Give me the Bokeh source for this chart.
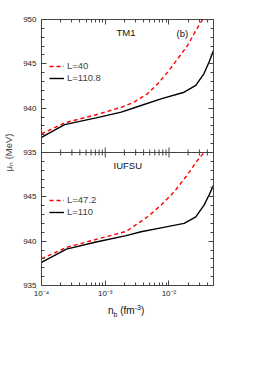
import numpy as np
from bokeh.plotting import figure
from bokeh.layouts import column
from bokeh.models import (Range1d, LinearAxis, LogAxis, FixedTicker, CustomJSTickFormatter,
                          Legend, LegendItem, Label, Span, Div)
from bokeh.embed import file_html
from bokeh.resources import INLINE

# ---------------- data ----------------
# TM1 panel
tm1_l40_n = [1e-4, 2.3e-4, 7.2e-4, 1.78e-3, 2.87e-3, 4.64e-3, 6.66e-3, 9.55e-3, 0.0137, 0.0196, 0.0264, 0.0355]
tm1_l40_mu = [937.1, 938.35, 939.26, 940.1, 940.7, 941.65, 942.75, 944.06, 945.57, 947.07, 948.76, 950.26]
tm1_l110_n = [1e-4, 2.3e-4, 7.2e-4, 1.78e-3, 3.65e-3, 7.5e-3, 0.0173, 0.0264, 0.0355, 0.0426, 0.05]
tm1_l110_mu = [936.7, 938.15, 938.9, 939.55, 940.3, 941.05, 941.8, 942.56, 943.9, 945.2, 946.5]
# IUFSU panel
iu_l47_n = [1e-4, 2.46e-4, 7.2e-4, 2.13e-3, 2.87e-3, 4.64e-3, 7.5e-3, 0.0121, 0.0184, 0.0281, 0.0356]
iu_l47_mu = [938.0, 939.3, 940.2, 941.1, 941.73, 942.75, 944.06, 945.57, 947.26, 949.13, 950.0]
iu_l110_n = [1e-4, 2.46e-4, 7.2e-4, 2.13e-3, 3.65e-3, 7.5e-3, 0.0173, 0.0264, 0.0355, 0.0426, 0.05]
iu_l110_mu = [937.6, 939.1, 939.9, 940.62, 941.06, 941.5, 942.0, 942.75, 944.06, 945.2, 946.3]

legend_top = ["L=40", "L=110.8"]
legend_bot = ["L=47.2", "L=110"]
panel_names = ["TM1", "IUFSU"]
panel_tag = "(b)"

xtick_major = [1e-4, 1e-3, 1e-2]
xtick_labels = ["10\u207b\u2074", "10\u207b\u00b3", "10\u207b\u00b2"]
xtick_minor = [k * 10.0 ** e for e in (-4, -3, -2) for k in range(2, 10) if k * 10.0 ** e <= 0.05]
ytick_major = [935, 940, 945, 950, 955, 960, 965]
ytick_minor = list(range(935, 966))

FONT = "Liberation Sans"
AX = "#444444"

p = figure(width=228, height=302, x_axis_type="log", x_range=Range1d(1e-4, 0.05),
           y_range=Range1d(935, 965), output_backend="svg", toolbar_location=None,
           min_border_left=40, min_border_top=19, min_border_right=15, min_border_bottom=17)
p.extra_y_ranges = {"top": Range1d(920, 950)}
p.grid.visible = False
p.outline_line_color = None
p.background_fill_color = "white"

xticker = FixedTicker(ticks=xtick_major, minor_ticks=xtick_minor)
yticker = FixedTicker(ticks=ytick_major, minor_ticks=ytick_minor)

xfmt = CustomJSTickFormatter(args=dict(majors=xtick_major, names=xtick_labels), code="""
for (let i = 0; i < majors.length; i++) {
  if (Math.abs(Math.log10(tick) - Math.log10(majors[i])) < 1e-6) return names[i];
}
return "";
""")
yfmt = CustomJSTickFormatter(code="return String(tick >= 950 ? tick - 15 : tick);")
nofmt = CustomJSTickFormatter(code="return '';")


def style(ax):
    ax.axis_line_color = AX
    ax.major_tick_line_color = AX
    ax.minor_tick_line_color = AX
    ax.major_tick_in = 5
    ax.major_tick_out = 0
    ax.minor_tick_in = 3
    ax.minor_tick_out = 0
    ax.major_label_text_font = FONT
    ax.major_label_text_font_size = "8px"
    ax.major_label_text_color = "#222222"


bx = p.xaxis[0]
bx.ticker = xticker
bx.formatter = xfmt
style(bx)
bx.major_label_standoff = 3

ly = p.yaxis[0]
ly.ticker = yticker
ly.formatter = yfmt
style(ly)
ly.major_label_standoff = 5
ly.axis_label = "\u03bc\u2099 (MeV)"
ly.axis_label_text_font = FONT
ly.axis_label_text_font_style = "normal"
ly.axis_label_text_font_size = "9.5px"
ly.axis_label_standoff = 6

tx = LogAxis(ticker=xticker, formatter=nofmt)
style(tx)
tx.major_label_standoff = 0
p.add_layout(tx, "above")

ry = LinearAxis(ticker=yticker, formatter=nofmt)
style(ry)
ry.major_label_standoff = 0
p.add_layout(ry, "right")

# panel boundary
p.add_layout(Span(location=950, dimension="width", line_color=AX, line_width=1))
p.scatter(x=xtick_major, y=[950] * len(xtick_major), marker="dash", angle=np.pi / 2,
          size=10, line_color=AX, line_width=1)
p.scatter(x=xtick_minor, y=[950] * len(xtick_minor), marker="dash", angle=np.pi / 2,
          size=6, line_color=AX, line_width=1)

# curves
r1 = p.line(tm1_l40_n, tm1_l40_mu, y_range_name="top", line_color="#ff0000", line_width=1.4, line_dash="4 3")
r2 = p.line(tm1_l110_n, tm1_l110_mu, y_range_name="top", line_color="black", line_width=1.4)
r3 = p.line(iu_l47_n, iu_l47_mu, line_color="#ff0000", line_width=1.4, line_dash="4 3")
r4 = p.line(iu_l110_n, iu_l110_mu, line_color="black", line_width=1.4)


def make_legend(items, loc):
    lg = Legend(items=items, location=loc)
    lg.label_text_font = FONT
    lg.label_text_font_size = "9.5px"
    lg.glyph_width = 15
    lg.glyph_height = 10
    lg.label_height = 10
    lg.spacing = 1
    lg.padding = 0
    lg.margin = 0
    lg.label_standoff = 3
    lg.border_line_alpha = 0
    lg.background_fill_alpha = 0
    return lg


p.add_layout(make_legend([LegendItem(label=legend_top[0], renderers=[r1]),
                          LegendItem(label=legend_top[1], renderers=[r2])], (8, 202)), "center")
p.add_layout(make_legend([LegendItem(label=legend_bot[0], renderers=[r3]),
                          LegendItem(label=legend_bot[1], renderers=[r4])], (8, 68)), "center")


def lab(x, y, t, size="9.5px", baseline="middle"):
    p.add_layout(Label(x=x, y=y, x_units="screen", y_units="screen", text=t,
                       text_font=FONT, text_font_size=size, text_baseline=baseline,
                       text_color="#111111"))


lab(75, 253.5, panel_names[0])
lab(135, 252.5, panel_tag)
lab(72, 120, panel_names[1])

# x axis label: n_b (fm^-3)
xlabel = Div(text="n<sub style='font-size:7px'>b</sub> (fm<sup style='font-size:7px'>-3</sup>)",
             width=228, height=16, margin=(0, 0, 0, 0),
             styles={"font-family": FONT, "font-size": "10px", "color": "#111111",
                     "padding-left": "108px", "line-height": "12px"})

open("out.html", "w").write(file_html(column(p, xlabel, spacing=0), INLINE))
